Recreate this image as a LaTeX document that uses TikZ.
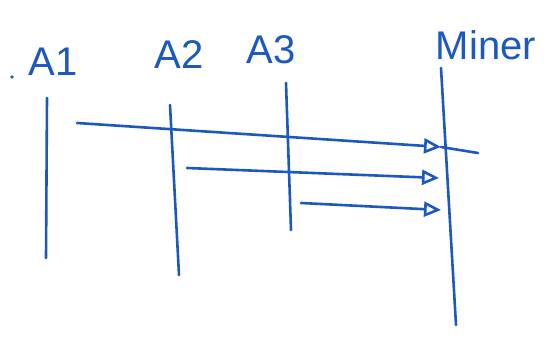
\documentclass[tikz,border=0pt]{standalone}
\usepackage{fontspec}
\setmainfont{Liberation Sans}
\usetikzlibrary{arrows.meta,positioning,calc}
\definecolor{ink}{RGB}{28,88,190}

\begin{document}
\begin{tikzpicture}[x=1pt,y=-1pt,line width=2.6pt,draw=ink,line cap=round,
    lbl/.style={font=\fontsize{40}{40}\selectfont,text=ink,inner sep=0pt},
    msg/.style={-{Triangle[open,length=17pt,width=15pt]}}]
    \useasboundingbox (0,0) rectangle (548,339);

    % actors
    \node[lbl] (a1) at (53,62) {A1};
    \node[lbl] (a2) at (179,55) {A2};
    \node[lbl] (a3) at (271,50) {A3};
    \node[lbl] (mn) at (486,45) {Miner};
    \fill[ink] (12,77) circle[radius=1.8pt];

    % lifelines
    \coordinate (a1t) at (47,98);   \coordinate (a1b) at (46,258);
    \coordinate (a2t) at (170,105); \coordinate (a2b) at (179,275);
    \coordinate (a3t) at (286,83);  \coordinate (a3b) at (291,230);
    \coordinate (mnt) at (441,68);  \coordinate (mnb) at (456,325);
    \draw (a1t) -- (a1b);
    \draw (a2t) -- (a2b);
    \draw (a3t) -- (a3b);
    \draw (mnt) -- (mnb);

    % messages
    \coordinate (m1s) at (77,123);  \coordinate (m1e) at (441,147);
    \coordinate (m1x) at (478,153);
    \coordinate (m2s) at (187,168); \coordinate (m2e) at (439,178);
    \coordinate (m3s) at (301,203); \coordinate (m3e) at (441,210);
    \draw[msg] (m1s) -- (m1e);
    \draw (m1e) -- (m1x);
    \draw[msg] (m2s) -- (m2e);
    \draw[msg] (m3s) -- (m3e);
\end{tikzpicture}
\end{document}
